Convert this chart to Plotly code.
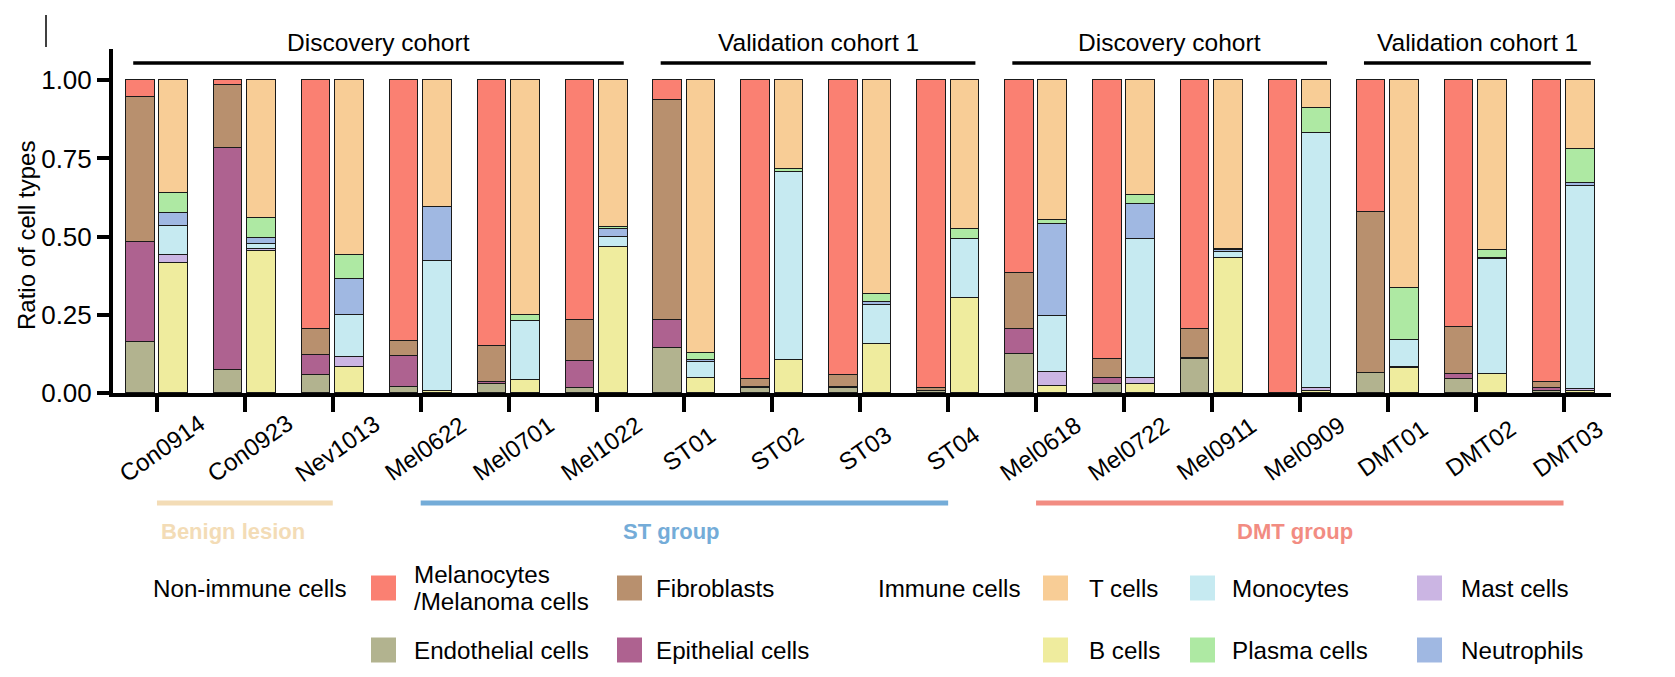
import plotly.graph_objects as go

# ---------------- data ----------------
samples = ["Con0914", "Con0923", "Nev1013", "Mel0622", "Mel0701", "Mel1022",
           "ST01", "ST02", "ST03", "ST04", "Mel0618", "Mel0722", "Mel0911",
           "Mel0909", "DMT01", "DMT02", "DMT03"]

# non-immune compartment (bottom -> top)
endothelial = [0.163, 0.075, 0.059, 0.020, 0.030, 0.015, 0.145, 0.015, 0.015,
               0.005, 0.124, 0.028, 0.110, 0.000, 0.063, 0.045, 0.008]
epithelial = [0.320, 0.708, 0.064, 0.097, 0.005, 0.087, 0.088, 0.005, 0.005,
              0.000, 0.082, 0.020, 0.003, 0.000, 0.000, 0.016, 0.008]
fibroblasts = [0.462, 0.201, 0.081, 0.049, 0.114, 0.130, 0.704, 0.025, 0.039,
               0.012, 0.178, 0.062, 0.091, 0.000, 0.515, 0.150, 0.020]
melanocytes = [0.055, 0.016, 0.796, 0.834, 0.851, 0.768, 0.063, 0.955, 0.941,
               0.983, 0.616, 0.890, 0.796, 1.000, 0.422, 0.789, 0.964]

# immune compartment (bottom -> top)
b_cells = [0.415, 0.455, 0.082, 0.005, 0.040, 0.466, 0.048, 0.107, 0.157,
           0.305, 0.022, 0.030, 0.432, 0.005, 0.081, 0.060, 0.008]
mast_cells = [0.025, 0.004, 0.033, 0.000, 0.000, 0.000, 0.000, 0.000, 0.000,
              0.000, 0.046, 0.018, 0.000, 0.010, 0.003, 0.000, 0.004]
monocytes = [0.095, 0.018, 0.133, 0.416, 0.190, 0.034, 0.052, 0.599, 0.126,
             0.186, 0.177, 0.443, 0.020, 0.817, 0.085, 0.367, 0.651]
neutrophils = [0.041, 0.019, 0.118, 0.175, 0.000, 0.025, 0.004, 0.000, 0.009,
               0.000, 0.295, 0.114, 0.004, 0.000, 0.000, 0.004, 0.008]
plasma_cells = [0.062, 0.064, 0.075, 0.000, 0.018, 0.005, 0.023, 0.010, 0.025,
                0.034, 0.013, 0.029, 0.004, 0.080, 0.168, 0.025, 0.110]
t_cells = [0.362, 0.440, 0.559, 0.404, 0.752, 0.470, 0.873, 0.284, 0.683,
           0.475, 0.447, 0.366, 0.540, 0.088, 0.663, 0.544, 0.219]

y_ticks = [0, 0.25, 0.5, 0.75, 1.0]
y_ticktext = ["0.00", "0.25", "0.50", "0.75", "1.00"]

cohort_labels = ["Discovery cohort", "Validation cohort 1", "Discovery cohort", "Validation cohort 1"]
cohort_spans = [(0, 5), (6, 9), (10, 13), (14, 16)]

group_labels = ["Benign lesion", "ST group", "DMT group"]
group_spans = [(0, 2), (3, 9), (10, 16)]
group_colors = ["#F3DCB6", "#74ACD8", "#F28C82"]

# ---------------- styling ----------------
FONT = "Liberation Sans, Arial, Helvetica, sans-serif"
C_MEL, C_FIB, C_END, C_EPI = "#FA8072", "#B8906E", "#B2B38F", "#AE6290"
C_T, C_B, C_MONO, C_PLA, C_MAST, C_NEU = "#F8CD96", "#EFEC9E", "#C6EAF1", "#AEE9A3", "#CBB5E3", "#A0B8E2"

W, H = 1675, 677
L, R, T, B = 105, 1603, 41, 385
X0, X1 = -0.5, 16.54


def px(xp):
    return (xp - L) / (R - L)


def py(yp):
    return (B - yp) / (B - T)


def dx_paper(xd):
    # position along the x axis expressed as a fraction of the plot width
    return (xd - X0) / (X1 - X0)


n = len(samples)
idx = list(range(n))
left_x = [i - 0.19 for i in idx]
right_x = [i + 0.19 for i in idx]
BW = 0.325

fig = go.Figure()
nonimmune = [("Endothelial cells", endothelial, C_END), ("Epithelial cells", epithelial, C_EPI),
             ("Fibroblasts", fibroblasts, C_FIB), ("Melanocytes/Melanoma cells", melanocytes, C_MEL)]
immune = [("B cells", b_cells, C_B), ("Mast cells", mast_cells, C_MAST), ("Monocytes", monocytes, C_MONO),
          ("Neutrophils", neutrophils, C_NEU), ("Plasma cells", plasma_cells, C_PLA), ("T cells", t_cells, C_T)]

for name, vals, col in nonimmune:
    fig.add_trace(go.Bar(x=left_x, y=vals, width=BW, name=name, showlegend=False,
                         marker=dict(color=col, line=dict(color="#1a1a1a", width=1.5))))
for name, vals, col in immune:
    fig.add_trace(go.Bar(x=right_x, y=vals, width=BW, name=name, showlegend=False,
                         marker=dict(color=col, line=dict(color="#1a1a1a", width=1.5))))

shapes = []
annotations = []

# rotated sample labels, centred under each tick
for i, s in enumerate(samples):
    annotations.append(dict(text=s, xref="paper", yref="paper", x=dx_paper(i + 0.05), y=py(440),
                            xanchor="center", yanchor="middle", textangle=-35, showarrow=False,
                            font=dict(size=24, color="black", family=FONT)))

# cohort headers
for lab, (a, b) in zip(cohort_labels, cohort_spans):
    shapes.append(dict(type="line", xref="x", yref="paper", x0=a - 0.27, x1=b + 0.31,
                       y0=py(55), y1=py(55), line=dict(color="black", width=3.5)))
    annotations.append(dict(text=lab, xref="x", yref="paper", x=(a + b) / 2 + 0.02, y=py(35),
                            xanchor="center", yanchor="middle", showarrow=False,
                            font=dict(size=24.5, color="black", family=FONT)))

# group bars below axis
group_label_x = [0.87, 5.85, 12.94]
for lab, (a, b), col, gx in zip(group_labels, group_spans, group_colors, group_label_x):
    shapes.append(dict(type="line", xref="x", yref="paper", x0=a, x1=b,
                       y0=py(495), y1=py(495), line=dict(color=col, width=5)))
    annotations.append(dict(text="<b>" + lab + "</b>", xref="x", yref="paper", x=gx, y=py(523),
                            xanchor="center", yanchor="middle", showarrow=False,
                            font=dict(size=22, color=col, family=FONT)))

# y-axis title
annotations.append(dict(text="Ratio of cell types", xref="paper", yref="paper", x=px(18), y=py(228),
                        textangle=-90, xanchor="center", yanchor="middle", showarrow=False,
                        font=dict(size=24, color="black", family=FONT)))

# custom legend
rows = [580, 642]
LF = 24.2
for txt, x0 in [("Non-immune cells", 143), ("Immune cells", 868)]:
    annotations.append(dict(text=txt, xref="paper", yref="paper", x=px(x0), y=py(rows[0]),
                            xanchor="left", yanchor="middle", showarrow=False,
                            font=dict(size=LF, color="black", family=FONT)))

legend_items = [
    ("Melanocytes", C_MEL, 363, 404, 0),
    ("Fibroblasts", C_FIB, 609, 646, 0),
    ("Endothelial cells", C_END, 363, 404, 1),
    ("Epithelial cells", C_EPI, 609, 646, 1),
    ("T cells", C_T, 1035, 1079, 0),
    ("Monocytes", C_MONO, 1182, 1222, 0),
    ("Mast cells", C_MAST, 1409, 1451, 0),
    ("B cells", C_B, 1035, 1079, 1),
    ("Plasma cells", C_PLA, 1182, 1222, 1),
    ("Neutrophils", C_NEU, 1409, 1451, 1),
]
SW = 25
for txt, col, x0, xt, r in legend_items:
    yc = rows[r]
    shapes.append(dict(type="rect", xref="paper", yref="paper", x0=px(x0), x1=px(x0 + SW),
                       y0=py(yc + SW / 2), y1=py(yc - SW / 2), fillcolor=col, line=dict(width=0)))
    lines = [("Melanocytes", yc - 14), ("/Melanoma cells", yc + 13)] if txt == "Melanocytes" else [(txt, yc)]
    for t_line, yy in lines:
        annotations.append(dict(text=t_line, xref="paper", yref="paper", x=px(xt), y=py(yy),
                                xanchor="left", yanchor="middle", showarrow=False,
                                font=dict(size=LF, color="black", family=FONT)))

# stray mark at top-left of the cropped figure
shapes.append(dict(type="line", xref="paper", yref="paper", x0=px(38), x1=px(38),
                   y0=py(7), y1=py(39), line=dict(color="black", width=1.5)))

fig.update_layout(
    width=W, height=H,
    barmode="stack", bargap=0,
    plot_bgcolor="white", paper_bgcolor="white",
    margin=dict(l=L, r=W - R, t=T, b=H - B, pad=0),
    font=dict(family=FONT, size=22, color="black"),
    shapes=shapes, annotations=annotations,
    showlegend=False,
    xaxis=dict(range=[X0, X1], tickmode="array", tickvals=idx, showticklabels=False,
               ticks="outside", ticklen=15, tickwidth=4, tickcolor="black",
               showline=True, linewidth=4, linecolor="black", showgrid=False, zeroline=False),
    yaxis=dict(range=[0, 1.1], tickmode="array", tickvals=y_ticks, ticktext=y_ticktext,
               ticks="outside", ticklen=12, tickwidth=4, tickcolor="black",
               showline=True, linewidth=4, linecolor="black", showgrid=False, zeroline=False,
               tickfont=dict(size=26, family=FONT, color="black")),
)

fig.write_html("out.html")
